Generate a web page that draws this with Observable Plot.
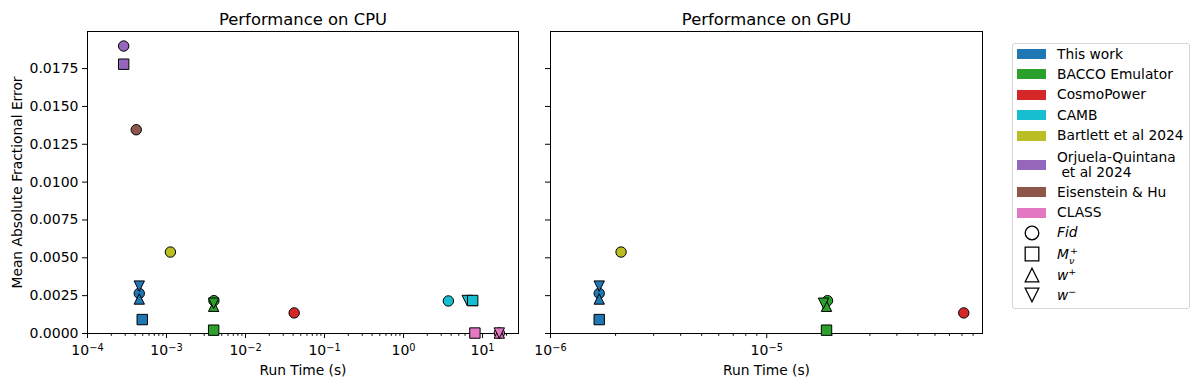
<!DOCTYPE html>
<html><head><meta charset="utf-8">
<script src="https://cdn.jsdelivr.net/npm/d3@7"></script>
<script src="https://cdn.jsdelivr.net/npm/@observablehq/plot@0.6"></script>
<style>
body{margin:0;background:#fff;font-family:"DejaVu Sans",sans-serif;}
#wrap{position:relative;width:1200px;height:380px;overflow:hidden;background:#fff;}
.panel{position:absolute;top:0;}
#legend{position:absolute;left:1012px;top:43px;width:178px;height:266px;border:1px solid #d6d6d6;border-radius:3px;box-sizing:border-box;}
.li{position:absolute;font-size:13.8px;line-height:15px;color:#000;white-space:pre;}
.patch{position:absolute;width:29px;height:10px;}
.sym{position:absolute;}
</style></head><body><div id="wrap"><div id="legend"></div></div>
<script>
// ---------- data ----------
const methods = ["This work", "BACCO Emulator", "CosmoPower", "CAMB", "Bartlett et al 2024", "Orjuela-Quintana\n et al 2024", "Eisenstein & Hu", "CLASS"];
const colors = ["#1f77b4", "#2ca02c", "#d62728", "#17becf", "#bcbd22", "#9467bd", "#8c564b", "#e377c2"];
const cases = ["Fid", "Mnu+", "w+", "w-"];

// CPU panel
const cpuMethod = ["This work","This work","This work","This work",
  "BACCO Emulator","BACCO Emulator","BACCO Emulator","BACCO Emulator",
  "CosmoPower",
  "CAMB","CAMB","CAMB","CAMB",
  "Bartlett et al 2024",
  "Orjuela-Quintana\n et al 2024","Orjuela-Quintana\n et al 2024",
  "Eisenstein & Hu",
  "CLASS","CLASS","CLASS","CLASS"];
const cpuCase = ["Fid","Mnu+","w+","w-",
  "Fid","Mnu+","w+","w-",
  "Fid",
  "Fid","Mnu+","w+","w-",
  "Fid",
  "Fid","Mnu+",
  "Fid",
  "Fid","Mnu+","w+","w-"];
const cpuTime = [4.52e-4, 4.93e-4, 4.52e-4, 4.52e-4,
  3.98e-3, 3.95e-3, 3.95e-3, 3.95e-3,
  0.0413,
  3.69, 7.5, 7.5, 6.4,
  1.12e-3,
  2.87e-4, 2.87e-4,
  4.14e-4,
  16.3, 8.0, 16.3, 16.3];
const cpuError = [0.00265, 0.00092, 0.00228, 0.00313,
  0.00217, 0.00022, 0.00180, 0.00200,
  0.00136,
  0.00215, 0.00218, 0.00218, 0.00218,
  0.00538,
  0.01899, 0.01779,
  0.01346,
  0.00003, 0.00003, 0.00003, 0.00003];

// GPU panel
const gpuMethod = ["This work","This work","This work","This work",
  "BACCO Emulator","BACCO Emulator","BACCO Emulator","BACCO Emulator",
  "CosmoPower", "Bartlett et al 2024"];
const gpuCase = ["Fid","Mnu+","w+","w-","Fid","Mnu+","w+","w-","Fid","Fid"];
const gpuTime = [1.68e-6, 1.68e-6, 1.68e-6, 1.68e-6,
  1.91e-5, 1.89e-5, 1.89e-5, 1.83e-5,
  8.15e-5, 2.12e-6];
const gpuError = [0.00265, 0.00092, 0.00228, 0.00313,
  0.00217, 0.00022, 0.00180, 0.00200,
  0.00136, 0.00538];

const yTicks = [0, 0.0025, 0.005, 0.0075, 0.01, 0.0125, 0.015, 0.0175];
const cpuMajor = [1e-4, 1e-3, 1e-2, 1e-1, 1, 10];
const gpuMajor = [1e-6, 1e-5];
const cpuExp = ["−4", "−3", "−2", "−1", "0", "1"];
const gpuExp = ["−6", "−5"];

// ---------- symbols (matplotlib-like: bounding box = diameter) ----------
const symCircle = {draw(c, s){const r=Math.sqrt(s/Math.PI); c.moveTo(r,0); c.arc(0,0,r,0,2*Math.PI); c.closePath();}};
const symSquare = {draw(c, s){const r=Math.sqrt(s/Math.PI); c.rect(-r,-r,2*r,2*r);}};
const symUp = {draw(c, s){const r=Math.sqrt(s/Math.PI); c.moveTo(0,-r); c.lineTo(r,r); c.lineTo(-r,r); c.closePath();}};
const symDown = {draw(c, s){const r=Math.sqrt(s/Math.PI); c.moveTo(0,r); c.lineTo(r,-r); c.lineTo(-r,-r); c.closePath();}};
const symFor = {"Fid": symCircle, "Mnu+": symSquare, "w+": symUp, "w-": symDown};
const drawOrder = ["Fid", "w+", "w-", "Mnu+"];

function rows(m, c, t, e){ return t.map((v,i)=>({method:m[i], kase:c[i], time:v, error:e[i]})); }
function minors(lo, hi){ const out=[]; for(let k=Math.floor(Math.log10(lo)); k<=Math.ceil(Math.log10(hi)); k++){ for(let m=2;m<=9;m++){const v=m*Math.pow(10,k); if(v>=lo&&v<=hi) out.push(v);} } return out; }

function panel({data, xdomain, major, exps, width, ml, mr, title, ylab}){
  const fmt = new Map(major.map((v,i)=>[v, "10^" + exps[i]]));
  const marks = [
    Plot.axisX({ticks: major, tickFormat: d=>fmt.get(d), tickSize: 5, tickPadding: 6.5, fontSize: 14, label: null}),
    Plot.axisX({ticks: minors(xdomain[0], xdomain[1]), tickSize: 2.8, tickFormat: ()=>"", label: null}),
    Plot.axisY({ticks: yTicks, tickFormat: ylab ? d3.format(".4f") : ()=>"", tickSize: 5, tickPadding: 4, fontSize: 14, label: null}),
    Plot.frame({stroke: "black", strokeWidth: 1})
  ];
  for (const k of drawOrder) {
    marks.push(Plot.dot(data.filter(d=>d.kase===k), {x:"time", y:"error", fill:"method", stroke:"black", strokeWidth:1, r:5.2, symbol: symFor[k], clip: false}));
  }
  marks.push(Plot.text([title], {frameAnchor:"top", dy:-11.5, text:d=>d, fontSize:16.4, lineAnchor:"middle", textAnchor:"middle"}));
  marks.push(Plot.text(["Run Time (s)"], {frameAnchor:"bottom", dy:37, text:d=>d, fontSize:13.8, lineAnchor:"middle", textAnchor:"middle"}));
  if (ylab) marks.push(Plot.text([ylab], {frameAnchor:"left", dx:-70, rotate:-90, text:d=>d, fontSize:13.8, lineAnchor:"middle", textAnchor:"middle"}));
  const svg = Plot.plot({
    width, height: 380, marginLeft: ml, marginRight: mr, marginTop: 31, marginBottom: 47,
    x: {type: "log", domain: xdomain},
    y: {domain: [0, 0.01995]},
    color: {domain: methods, range: colors},
    style: {fontFamily: "DejaVu Sans", fontSize: "13.8px", color: "black", background: "transparent", overflow: "visible"},
    marks
  });
  // mathtext-like superscripts on the log tick labels
  svg.querySelectorAll("text").forEach(t=>{
    const s = t.textContent;
    if (s.startsWith("10^")) {
      const ex = s.slice(3);
      const y = t.getAttribute("y"), dy = t.getAttribute("dy");
      while (t.firstChild) t.removeChild(t.firstChild);
      t.appendChild(document.createTextNode("10"));
      const ts = document.createElementNS("http://www.w3.org/2000/svg","tspan");
      ts.setAttribute("dy","-0.42em"); ts.setAttribute("font-size","70%"); ts.textContent = ex;
      t.appendChild(ts);
    }
  });
  return svg;
}

const wrap = document.getElementById("wrap");
const p1 = panel({data: rows(cpuMethod, cpuCase, cpuTime, cpuError), xdomain: [1e-4, 28.5], major: cpuMajor, exps: cpuExp,
  width: 530, ml: 87, mr: 12, title: "Performance on CPU", ylab: "Mean Absolute Fractional Error"});
p1.classList.add("panel"); p1.style.left = "0px"; p1.style.position="absolute";
wrap.appendChild(p1);
const p2 = panel({data: rows(gpuMethod, gpuCase, gpuTime, gpuError), xdomain: [1e-6, 9.95e-5], major: gpuMajor, exps: gpuExp,
  width: 470, ml: 20, mr: 18, title: "Performance on GPU", ylab: null});
p2.classList.add("panel"); p2.style.left = "530px"; p2.style.position="absolute";
wrap.appendChild(p2);

// ---------- legend ----------
const rowY = [54, 74.3, 94.7, 115.3, 135.7, 165, 192.3, 212.7];
const caseY = [232.7, 254, 275, 295];
const caseLabels = ["<i>Fid</i>",
  "<i>M</i><span style='position:relative;display:inline-block;width:9px;height:15px;vertical-align:top'><span style='position:absolute;left:1px;top:-4px;font-size:9.5px'>+</span><span style='position:absolute;left:0px;top:6px;font-size:9.5px;font-style:italic'>ν</span></span>",
  "<i>w</i><span style='position:relative;top:-5px;font-size:9.5px'>+</span>",
  "<i>w</i><span style='position:relative;top:-5px;font-size:9.5px'>−</span>"];
const caseSym = ["Fid", "Mnu+", "w+", "w-"];
methods.forEach((m,i)=>{
  const p = document.createElement("div"); p.className="patch";
  p.style.left=(1017)+"px"; p.style.top=(rowY[i]-5)+"px"; p.style.background=colors[i];
  wrap.appendChild(p);
  const t = document.createElement("div"); t.className="li";
  const lines = m.split("\n").length;
  t.style.left="1057px"; t.style.top=(rowY[i]-7.5*lines)+"px"; t.textContent=m;
  wrap.appendChild(t);
});
caseSym.forEach((k,i)=>{
  const ns="http://www.w3.org/2000/svg";
  const svg=document.createElementNS(ns,"svg"); svg.setAttribute("width","18"); svg.setAttribute("height","18");
  svg.setAttribute("class","sym"); svg.style.left=(1031.7-9)+"px"; svg.style.top=(caseY[i]-9)+"px";
  const path=d3.path(); symFor[k].draw(path, Math.PI*6.8*6.8);
  const pe=document.createElementNS(ns,"path"); pe.setAttribute("d", path.toString()); pe.setAttribute("transform","translate(9,9)");
  pe.setAttribute("fill","none"); pe.setAttribute("stroke","black"); pe.setAttribute("stroke-width","1.3");
  svg.appendChild(pe); wrap.appendChild(svg);
  const t=document.createElement("div"); t.className="li"; t.style.left="1057px"; t.style.top=(caseY[i]-7.5)+"px";
  t.innerHTML=caseLabels[i]; wrap.appendChild(t);
});
</script></body></html>
